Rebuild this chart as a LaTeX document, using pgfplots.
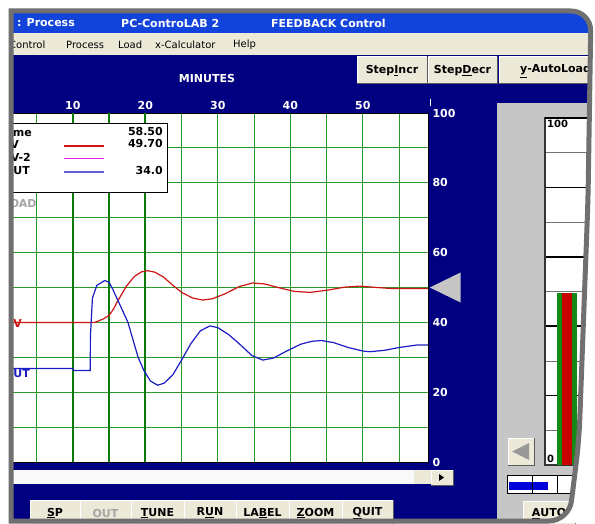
\documentclass[border=0pt]{standalone}
\usepackage{fontspec}
\setmainfont{DejaVu Sans}
\usepackage{pgfplots}
\pgfplotsset{compat=1.18}
\usetikzlibrary{calc}
\definecolor{navy}{HTML}{000080}
\definecolor{xpblue}{HTML}{1244DC}
\definecolor{menubg}{HTML}{ECE9D8}
\definecolor{panel}{HTML}{C6C6C6}
\definecolor{gridg}{HTML}{2A9A2A}
\definecolor{gridd}{HTML}{0B7A0B}
\definecolor{pvred}{HTML}{D01414}
\definecolor{outblue}{HTML}{1C1CC4}
\definecolor{legmag}{HTML}{E020E0}
\definecolor{framegray}{HTML}{707070}
\definecolor{barg}{HTML}{138A13}
\definecolor{barr}{HTML}{C80000}
\newcommand\bff{\bfseries\fontsize{11}{13}\selectfont}
\newcommand\btn[5]{%
  \fill[menubg] (#1,#2) rectangle (#3,#4);
  \draw[white,line width=1pt] (#1,#4) -- (#1,#2) -- (#3,#2);
  \draw[black!65,line width=1pt] (#1,#4) -- (#3,#4) -- (#3,#2);
  \node[font=\bff] at ($(#1,#2)!0.5!(#3,#4)$) {#5};}
\tikzset{px/.style={x=1pt,y=-1pt,shift={(0pt,523pt)}}}
\begin{document}
\begin{tikzpicture}
\clip (0pt,0pt) rectangle (595pt,523pt);
\begin{scope}[px]
\fill[white] (0,0) rectangle (595,523);
% title bar
\fill[xpblue] (0,11) rectangle (595,33);
\node[white,font=\bff,anchor=west,inner sep=0] at (17,23) {: Process};
\node[white,font=\bff,anchor=west,inner sep=0] at (121,23) {PC-ControLAB 2};
\node[white,font=\bff,anchor=west,inner sep=0] at (271,23) {FEEDBACK Control};
% menu bar
\fill[menubg] (0,33) rectangle (595,55);
\begin{scope}[every node/.style={font=\fontsize{10}{12}\selectfont,anchor=west,inner sep=0}]
\node at (9,45) {Control};
\node at (66,45) {Process};
\node at (118,45) {Load};
\node at (155,45) {x-Calculator};
\node at (233,45) {Help};
\end{scope}
% navy area and right panel
\fill[navy] (0,55) rectangle (595,523);
\fill[panel] (497,103) rectangle (595,523);
\btn{357}{57}{427}{84}{Step\underline{I}ncr}
\btn{428}{57}{497}{84}{Step\underline{D}ecr}
\fill[menubg] (499,57) rectangle (595,84);
\draw[white,line width=1pt] (499,84) -- (499,57) -- (595,57);
\draw[black!65,line width=1pt] (499,84) -- (595,84);
\node[font=\bff,anchor=west,inner sep=0] at (520,71) {\underline{y}-AutoLoad};
\node[white,font=\bff] at (207,78) {MINUTES};
\draw[white,line width=0.8pt] (430,99) -- (430,106);
\end{scope}
% trend axis
\begin{axis}[at={(12pt,61pt)}, anchor=south west, scale only axis,
  width=416pt, height=349pt,
  xmin=1.6, xmax=59, ymin=0, ymax=100,
  axis background/.style={fill=white},
  xtick={10,20,30,40,50}, minor xtick={5,15,25,35,45,55},
  ytick={0,20,40,60,80,100}, minor ytick={10,30,50,70,90},
  grid=both,
  major grid style={gridg,line width=0.9pt},
  minor grid style={gridg,line width=0.9pt},
  major tick length=0pt, minor tick length=0pt,
  xticklabel pos=upper, yticklabel pos=right,
  tick label style={white,font=\bff},
  yticklabel style={anchor=west,xshift=1pt},
  /pgf/number format/assume math mode=true,
  axis line style={black,line width=0.8pt},
  clip=false]
\draw[gridd,line width=1.8pt] (10,0) -- (10,100);
\draw[gridd,line width=1.8pt] (15,0) -- (15,100);
\draw[gridd,line width=1.8pt] (20,0) -- (20,100);
\addplot[pvred,line width=1.2pt] coordinates {
(1.6,40) (13.0,40) (13.3,40.2) (14.2,41) (15,42) (15.6,43.8) (16.1,45.8)
(16.8,48.3) (17.4,50.4) (18.5,53.2) (19.5,54.5) (20.3,54.8) (21.3,54.4)
(22.5,53) (23.7,50.8) (25,48.6) (26.5,47) (27.9,46.4) (29.3,46.8) (31,48.2)
(33,50.3) (34.8,51.3) (36.5,51) (38.5,49.9) (40.5,48.9) (42.7,48.6) (45,49.2)
(47.5,50.1) (49.6,50.4) (52,50) (54,49.7) (59,49.7)};
\addplot[outblue,line width=1.2pt] coordinates {
(1.6,26.8) (10,26.8) (10.1,26.2) (12.4,26.2) (12.42,36) (12.7,47) (13.3,50.6)
(14.4,52) (15.0,51.5) (15.5,49.5) (16.5,45) (17.6,40) (18.3,35) (19,30)
(19.8,26.2) (20.7,23.2) (21.7,22) (22.6,22.6) (23.8,25) (25,29.2) (26.3,34)
(27.6,37.6) (28.9,39) (30,38.5) (31.5,36.5) (33,33.8) (34.7,30.5) (36.2,29.2)
(37.7,29.8) (39.5,31.8) (41.5,33.8) (43,34.6) (44.3,34.8) (46,34.2) (48,32.8)
(50,31.8) (51,31.6) (53,32) (55,32.8) (57.4,33.5) (59,33.5)};
\fill[panel] (59.25,50) -- (63.5,45.7) -- (63.5,54.3) -- cycle;
\end{axis}
\begin{scope}[px]
% trend labels
\node[pvred,font=\bff,anchor=east,inner sep=0] at (22,323) {PV};
\node[outblue,font=\bff,anchor=east,inner sep=0] at (30,373) {OUT};
\node[black!35,font=\bff,anchor=west,inner sep=0] at (3,203) {LOAD};
% legend box
\draw[fill=white,draw=black,line width=0.7pt] (2,123) rectangle (167,192);
\begin{scope}[every node/.style={font=\bff,inner sep=0}]
\node[anchor=east] at (32,132) {Time};
\node[anchor=east] at (19,144) {PV};
\node[anchor=east] at (31,157) {PV-2};
\node[anchor=east] at (30,170) {OUT};
\node[anchor=east] at (163,131) {58.50};
\node[anchor=east] at (163,143) {49.70};
\node[anchor=east] at (163,170) {34.0};
\end{scope}
\draw[pvred,line width=1.4pt] (64,146) -- (104,146);
\draw[legmag,line width=1.3pt] (64,158.5) -- (104,158.5);
\draw[outblue!70,line width=1.3pt] (64,172) -- (104,172);
% scrollbar
\fill[white!95!gray] (0,470) rectangle (414,484);
\fill[menubg] (414,470) rectangle (431,484);
\draw[black!50] (431,470) -- (431,484);
\btn{431}{470}{453}{485}{}
\fill[black] (439,474) -- (444,477.5) -- (439,481) -- cycle;
% bottom buttons
\btn{30}{500}{80}{526}{\underline{S}P}
\btn{80}{500}{131}{526}{\textcolor{black!35}{OUT}}
\btn{131}{500}{184}{526}{\underline{T}UNE}
\btn{184}{500}{236}{526}{R\underline{U}N}
\btn{236}{500}{289}{526}{LA\underline{B}EL}
\btn{289}{500}{342}{526}{\underline{Z}OOM}
\btn{342}{500}{393}{526}{\underline{Q}UIT}
% right panel
\btn{508}{438}{534}{465}{}
\fill[black!40] (512,451.5) -- (529,443) -- (529,460) -- cycle;
\fill[white] (507,475) rectangle (575,493);
\draw[black,line width=0.8pt] (507,475) rectangle (575,493);
\fill[blue!85!black] (509,482) rectangle (548,490);
\draw[black,line width=0.6pt] (532,475) -- (532,493);
\draw[black,line width=0.6pt] (557,475) -- (557,493);
\btn{523}{501}{575}{526}{\underline{A}UTO}
\end{scope}
% gauge
\begin{axis}[at={(545pt,58pt)}, anchor=south west, scale only axis,
  width=45pt, height=347pt, xmin=0, xmax=1, ymin=0, ymax=100,
  axis background/.style={fill=white},
  xtick=\empty, ytick={20,40,60,80}, minor ytick={10,30,50,70,90},
  yticklabels={}, grid=both,
  major grid style={black,line width=1.6pt},
  minor grid style={black!55,line width=0.6pt},
  major tick length=0pt, minor tick length=0pt,
  axis line style={black!80,line width=1.2pt}, clip=false]
\addplot[fill=barg,draw=none] coordinates {(0.26,49.5) (0.37,49.5)} \closedcycle;
\addplot[fill=barr,draw=none] coordinates {(0.37,49.5) (0.59,49.5)} \closedcycle;
\addplot[fill=barg,draw=none] coordinates {(0.59,49.5) (0.70,49.5)} \closedcycle;
\draw[black,line width=2pt] (0,100) -- (1,100);
\node[anchor=north west,font=\bfseries\fontsize{10}{12}\selectfont,inner sep=2pt] at (0,100) {100};
\node[anchor=south west,font=\bfseries\fontsize{10}{12}\selectfont,inner sep=2pt] at (0,0) {0};
\end{axis}
% page frame
\begin{scope}[px]
\fill[white,even odd rule] (0,0) rectangle (595,523)
  (11,11) [rounded corners=20pt] -- (591,11) -- (588,200) -- (579,440) -- (569,521) [sharp corners] -- (11,521) -- cycle;
\draw[framegray,line width=5pt] (11,11) [rounded corners=20pt] -- (591,11) -- (588,200) -- (579,440) -- (569,521) [sharp corners] -- (11,521) -- cycle;
\end{scope}
\end{tikzpicture}
\end{document}
